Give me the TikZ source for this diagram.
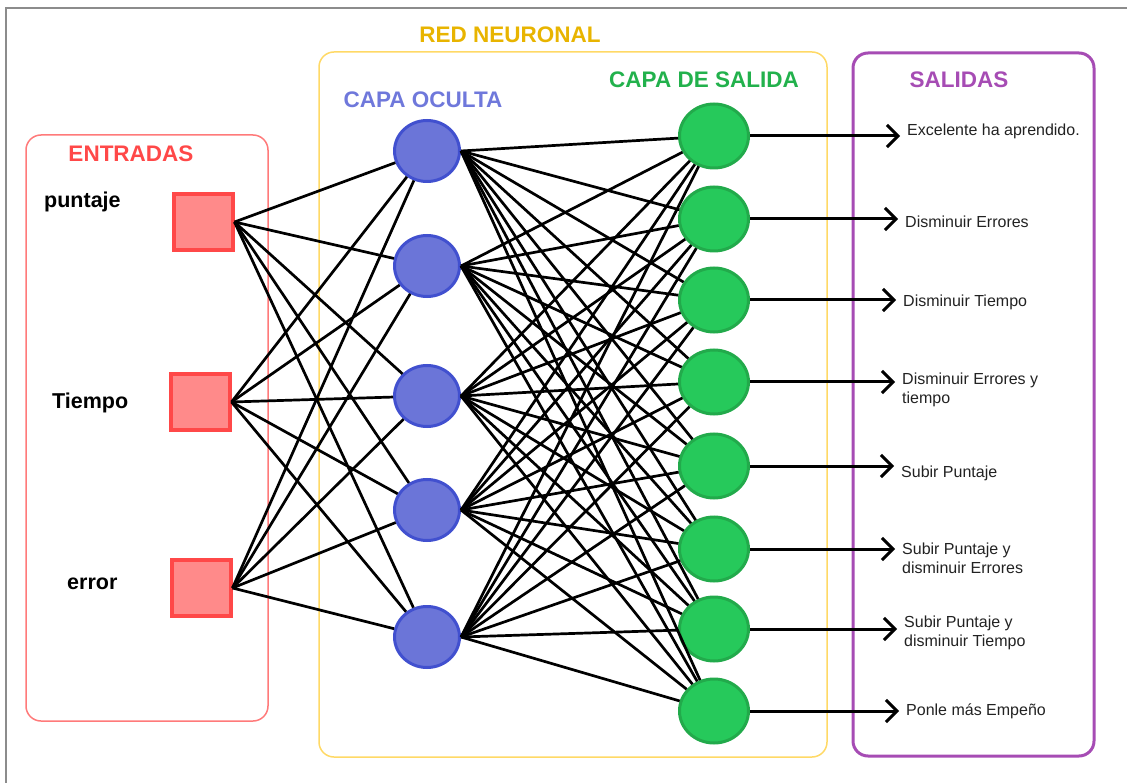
\documentclass[tikz,border=0pt]{standalone}
\usepackage{fontspec}
\setmainfont{Liberation Sans}
\usetikzlibrary{shapes.geometric,arrows.meta}

\definecolor{framegray}{HTML}{8C8C8C}
\definecolor{inline}{HTML}{FF7A7A}
\definecolor{inred}{HTML}{FF4848}
\definecolor{inpink}{HTML}{FF8A8A}
\definecolor{netline}{HTML}{FFD966}
\definecolor{netgold}{HTML}{E8B400}
\definecolor{hidfill}{HTML}{6B75D8}
\definecolor{hidborder}{HTML}{4150CF}
\definecolor{hidtext}{HTML}{6F78DB}
\definecolor{outfill}{HTML}{26C95B}
\definecolor{outborder}{HTML}{22AA4B}
\definecolor{outtext}{HTML}{22B14C}
\definecolor{salpurple}{HTML}{A64CB4}
\definecolor{txtgray}{HTML}{222222}

\begin{document}
\begin{tikzpicture}[x=1pt,y=-1pt,
  title/.style={inner sep=0pt, font=\fontsize{22.5}{26}\selectfont\bfseries},
  inlabel/.style={anchor=base west, inner sep=0pt, font=\fontsize{21.5}{25}\selectfont\bfseries},
  inbox/.style={draw=inred, fill=inpink, line width=4pt, minimum width=59pt, minimum height=56pt, inner sep=0pt},
  hid/.style={ellipse, draw=hidborder, fill=hidfill, line width=3pt, minimum width=65pt, minimum height=61pt, inner sep=0pt},
  outn/.style={ellipse, draw=outborder, fill=outfill, line width=3pt, minimum width=69pt, minimum height=64pt, inner sep=0pt},
  link/.style={line width=2.7pt, black},
  result/.style={anchor=base west, inner sep=0pt, align=left, text=txtgray, font=\fontsize{16}{19}\selectfont},
  arr/.style={line width=3pt, black, -{Straight Barb[length=11pt,width=22pt]}, shorten >=7pt}
]
\useasboundingbox (0,0) rectangle (1127,783);

% outer frame
\draw[framegray, line width=2pt] (6,783) -- (6,8) -- (1127,8);

% group boxes
\draw[inline, line width=1.5pt, rounded corners=15pt] (26,135) rectangle (268,721);
\draw[netline, line width=1.5pt, rounded corners=15pt] (319,52) rectangle (827,757);
\draw[salpurple, line width=3pt, rounded corners=15pt] (853,53) rectangle (1094,756);

% headings
\node[title, text=inred] (tin) at (131,153.5) {ENTRADAS};
\node[title, text=netgold] (tnet) at (510,35) {RED NEURONAL};
\node[title, text=hidtext] (thid) at (423,100) {CAPA OCULTA};
\node[title, text=outtext] (tout) at (704,79.5) {CAPA DE SALIDA};
\node[title, text=salpurple] (tsal) at (959,80) {SALIDAS};

% input labels
\node[inlabel] (l1) at (44,208) {puntaje};
\node[inlabel] (l2) at (52,408) {Tiempo};
\node[inlabel] (l3) at (67,589) {error};

% input units
\node[inbox] (i1) at (203,222) {};
\node[inbox] (i2) at (200,402) {};
\node[inbox] (i3) at (201,588) {};

% hidden layer
\foreach \n/\y in {1/151,2/266,3/396,4/510,5/637}
  \node[hid] (h\n) at (427,\y) {};

% output layer
\foreach \n/\y in {1/136,2/219,3/300,4/382,5/466,6/549,7/629,8/711}
  \node[outn] (o\n) at (714,\y) {};

% weights: inputs to hidden layer
\foreach \i in {1,2,3}
  \foreach \j in {1,...,5}
    \draw[link] (i\i.east) -- (h\j);

% weights: hidden layer to outputs
\foreach \j in {1,...,5}
  \foreach \k in {1,...,8}
    \draw[link] (h\j.east) -- (o\k);

% result texts (base anchor sits on the last line)
\node[result] (s1) at (907,136) {Excelente ha aprendido.};
\node[result] (s2) at (905,228) {Disminuir Errores};
\node[result] (s3) at (903,307) {Disminuir Tiempo};
\node[result] (s4) at (902,403) {Disminuir Errores y\\tiempo};
\node[result] (s5) at (901,477) {Subir Puntaje};
\node[result] (s6) at (902,573) {Subir Puntaje y\\disminuir Errores};
\node[result] (s7) at (904,646) {Subir Puntaje y\\disminuir Tiempo};
\node[result] (s8) at (906,715) {Ponle más Empeño};

% output arrows
\foreach \k in {1,...,8}
  \draw[arr] (o\k.east) -- (o\k.east -| s\k.west);
\end{tikzpicture}
\end{document}
